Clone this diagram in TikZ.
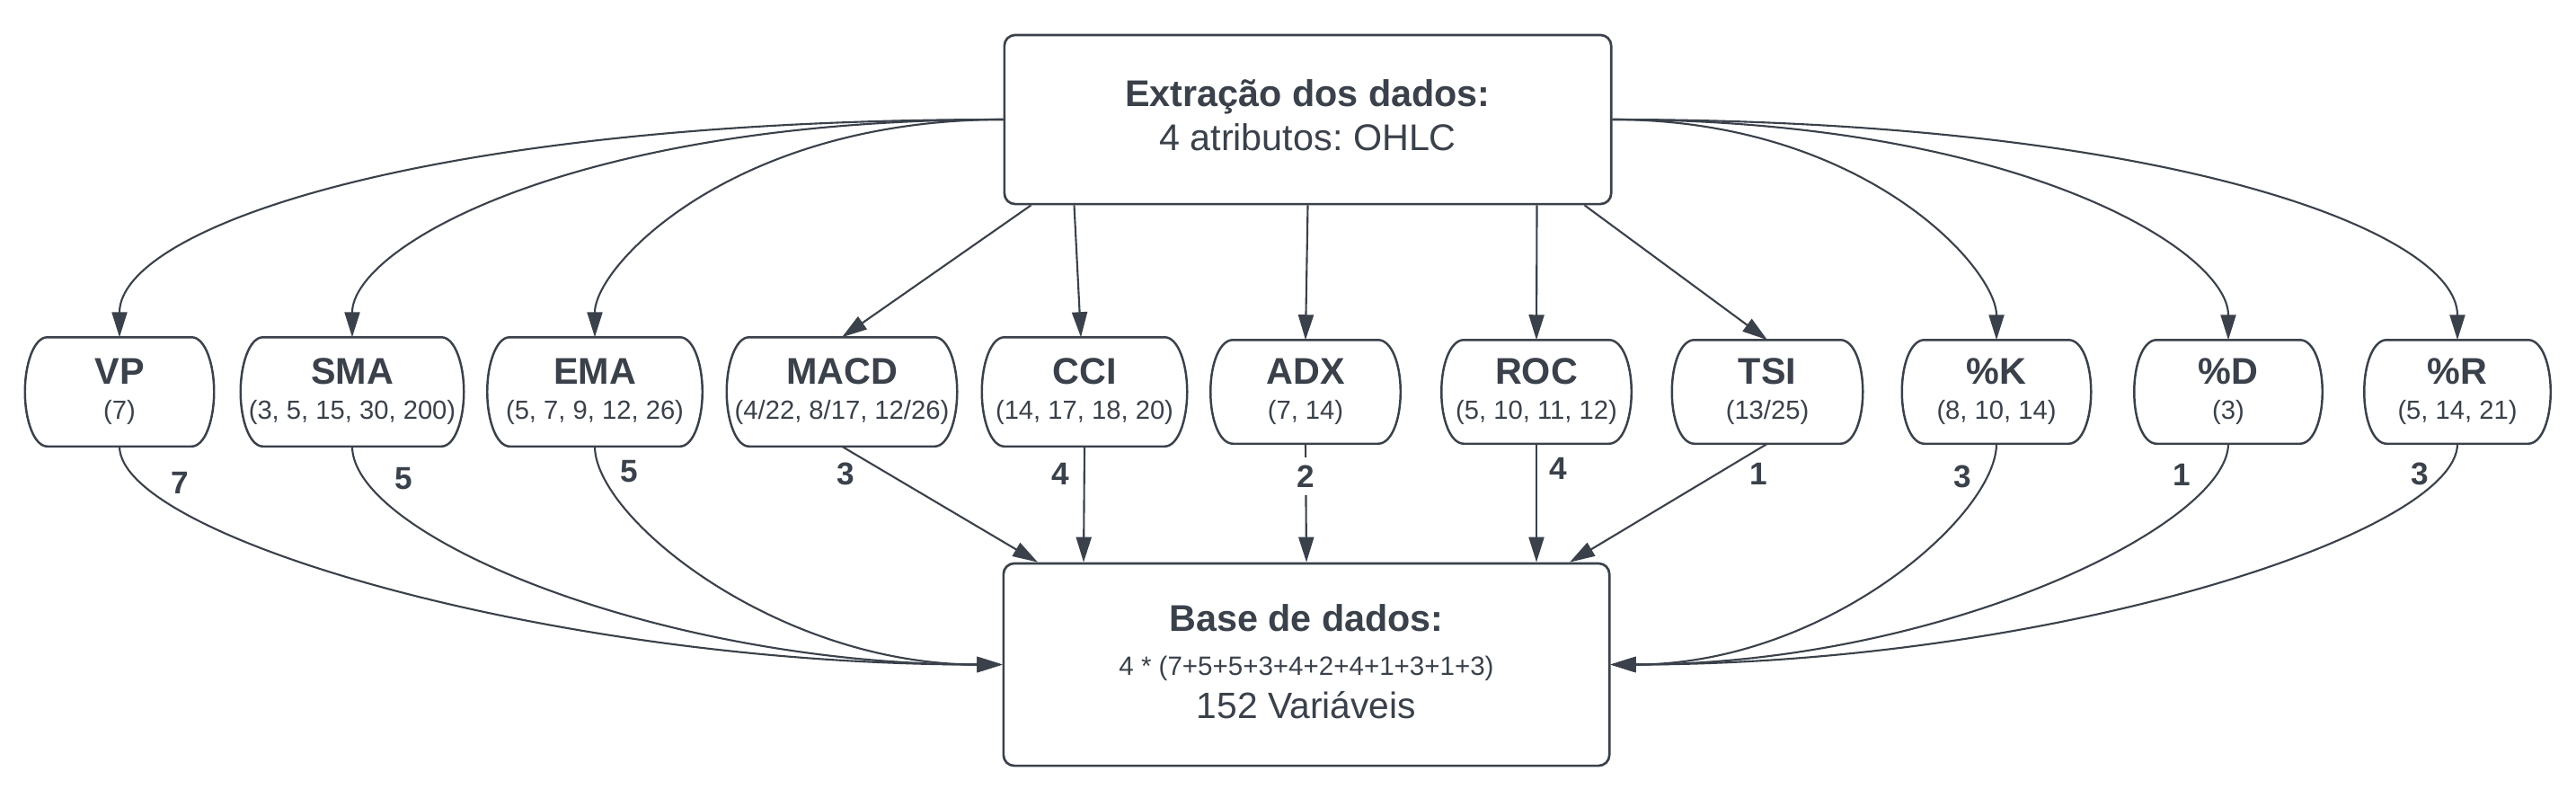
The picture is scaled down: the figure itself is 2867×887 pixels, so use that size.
\documentclass[tikz,border=0pt]{standalone}
\usepackage{fontspec}
\setmainfont{Liberation Sans}
\usetikzlibrary{arrows.meta,calc}
\definecolor{ink}{HTML}{3A414A}
\frenchspacing
\newcommand\bulgeshape[1]{%
  \draw[draw=ink, line width=0.7pt]
    ($(#1.north west)+(25,0)$) -- ($(#1.north east)+(-25,0)$)
    .. controls +(15,0) and +(0,-31) .. (#1.east)
    .. controls +(0,31) and +(15,0) .. ($(#1.south east)+(-25,0)$)
    -- ($(#1.south west)+(25,0)$)
    .. controls +(-15,0) and +(0,31) .. (#1.west)
    .. controls +(0,-31) and +(-15,0) .. cycle;}
\newcommand\indnode[6]{%
  \node[midbox, minimum width=#3, minimum height=#4] (#1) at (#2,436) {};
  \bulgeshape{#1}
  \node[midtitle] (#1-t) at ($(#1.center)+(0,-9)$) {#5};
  \node[subtext] (#1-s) at ($(#1.center)+(0,30)$) {#6};}
\begin{document}
\begin{tikzpicture}[x=0.01cm,y=-0.01cm,
  every node/.style={text=ink},
  bigbox/.style={draw=ink, line width=0.75pt, rounded corners=0.12cm, fill=white},
  midbox/.style={draw=none, inner sep=0pt},
  bigtitle/.style={font=\fontsize{11.75}{14}\selectfont\bfseries, anchor=base, inner sep=0pt},
  bigtext/.style={font=\fontsize{11.75}{14}\selectfont, anchor=base, inner sep=0pt},
  midtitle/.style={font=\fontsize{11.75}{14}\selectfont\bfseries, anchor=base, inner sep=0pt},
  subtext/.style={font=\fontsize{8.3}{10}\selectfont, anchor=base, inner sep=0pt},
  cnt/.style={font=\fontsize{10}{12}\selectfont\bfseries, inner sep=0pt},
  conn/.style={draw=ink, line width=0.6pt, -{Triangle[length=0.28cm,width=0.17cm]}}
]
\fill[white] (0,0) rectangle (2867,887);
\useasboundingbox (0,0) rectangle (2867,887);

% main boxes
\node[bigbox, minimum width=6.75cm, minimum height=1.88cm] (top) at (1455.5,133) {};
\node[bigtitle] (top-t) at ($(top.center)+(0,-15)$) {Extração dos dados:};
\node[bigtext] (top-s) at ($(top.center)+(0,34)$) {4 atributos: OHLC};

\node[bigbox, minimum width=6.74cm, minimum height=2.25cm] (bot) at (1454,739.5) {};
\node[bigtitle] (bot-t) at ($(bot.center)+(0,-37.5)$) {Base de dados:};
\node[subtext, font=\fontsize{8.4}{10}\selectfont] (bot-f) at ($(bot.center)+(0,11.5)$) {4 * (7+5+5+3+4+2+4+1+3+1+3)};
\node[bigtext, font=\fontsize{11.6}{14}\selectfont] (bot-v) at ($(bot.center)+(0,60)$) {152 Variáveis};

% indicator nodes
\indnode{vp}{133}{2.09cm}{1.20cm}{VP}{(7)}
\indnode{sma}{392}{2.47cm}{1.20cm}{SMA}{(3, 5, 15, 30, 200)}
\indnode{ema}{662}{2.38cm}{1.20cm}{EMA}{(5, 7, 9, 12, 26)}
\indnode{macd}{937}{2.55cm}{1.20cm}{MACD}{(4/22, 8/17, 12/26)}
\indnode{cci}{1207}{2.27cm}{1.20cm}{CCI}{(14, 17, 18, 20)}
\indnode{adx}{1453}{2.10cm}{1.14cm}{ADX}{(7, 14)}
\indnode{roc}{1710}{2.10cm}{1.14cm}{ROC}{(5, 10, 11, 12)}
\indnode{tsi}{1967}{2.11cm}{1.14cm}{TSI}{(13/25)}
\indnode{pk}{2222}{2.09cm}{1.14cm}{\%K}{(8, 10, 14)}
\indnode{pd}{2480}{2.08cm}{1.14cm}{\%D}{(3)}
\indnode{pr}{2735}{2.06cm}{1.14cm}{\%R}{(5, 14, 21)}

% top connectors
\draw[conn] (top.west) .. controls +(-650,0) and +(0,-120) .. (vp.north);
\draw[conn] (top.west) .. controls +(-480,0) and +(0,-100) .. (sma.north);
\draw[conn] (top.west) .. controls +(-300,0) and +(0,-80) .. (ema.north);
\draw[conn] ($(top.south)+(-308,0)$) -- (macd.north);
\draw[conn] ($(top.south)+(-260,0)$) -- ($(cci.north)+(-4,0)$);
\draw[conn] (top.south) -- (adx.north);
\draw[conn] ($(top.south)+(255,0)$) -- (roc.north);
\draw[conn] ($(top.south)+(308,0)$) -- (tsi.north);
\draw[conn] (top.east) .. controls +(280,0) and +(0,-80) .. (pk.north);
\draw[conn] (top.east) .. controls +(450,0) and +(0,-100) .. (pd.north);
\draw[conn] (top.east) .. controls +(620,0) and +(0,-120) .. (pr.north);

% bottom connectors
\draw[conn] (vp.south) .. controls +(0,100) and +(-500,0) .. (bot.west);
\draw[conn] (sma.south) .. controls +(0,100) and +(-380,0) .. (bot.west);
\draw[conn] (ema.south) .. controls +(0,80) and +(-250,0) .. (bot.west);
\draw[conn] (macd.south) -- ($(bot.north)+(-299,0)$);
\draw[conn] (cci.south) -- ($(bot.north)+(-248,0)$);
\draw[conn] (adx.south) -- (bot.north);
\draw[conn] (roc.south) -- ($(bot.north)+(256,0)$);
\draw[conn] (tsi.south) -- ($(bot.north)+(293,0)$);
\draw[conn] (pk.south) .. controls +(0,80) and +(240,0) .. (bot.east);
\draw[conn] (pd.south) .. controls +(0,90) and +(370,0) .. (bot.east);
\draw[conn] (pr.south) .. controls +(0,100) and +(490,0) .. (bot.east);

% counts
\node[cnt] (n-vp) at (200,537) {7};
\node[cnt] (n-sma) at (449,533) {5};
\node[cnt] (n-ema) at (700,525) {5};
\node[cnt] (n-macd) at (941,527) {3};
\node[cnt] (n-cci) at (1180,527) {4};
\node[cnt, fill=white, inner xsep=1pt, inner ysep=2.5pt] (n-adx) at (1453,530) {2};
\node[cnt] (n-roc) at (1734,521) {4};
\node[cnt] (n-tsi) at (1957,527) {1};
\node[cnt] (n-pk) at (2184,530) {3};
\node[cnt] (n-pd) at (2428,528) {1};
\node[cnt] (n-pr) at (2693,527) {3};
\end{tikzpicture}
\end{document}
